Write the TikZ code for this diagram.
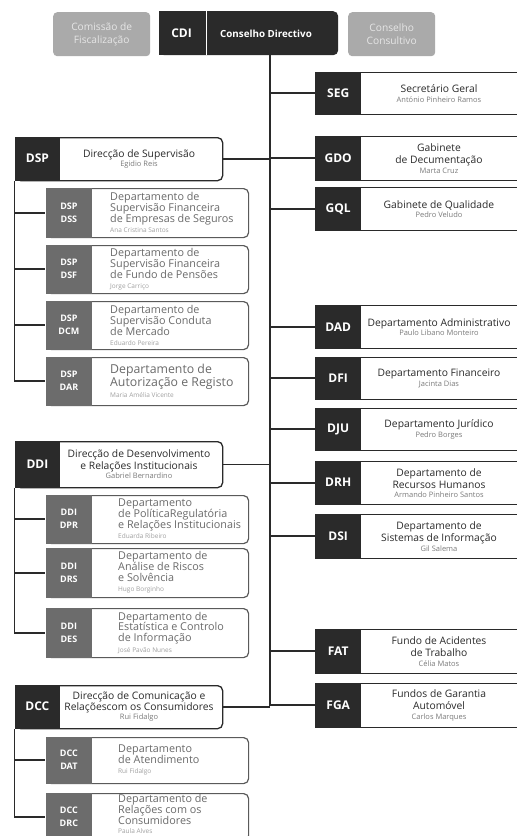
\documentclass[tikz,border=0pt]{standalone}
\usepackage{fontspec}
\setmainfont{Open Sans}
\definecolor{dark}{HTML}{2A2A2A}
\definecolor{subcode}{HTML}{6C6C6C}
\definecolor{subborder}{HTML}{5A5A5A}
\definecolor{subtext}{HTML}{6A6A6A}
\definecolor{rname}{HTML}{7A7A7A}
\definecolor{sname}{HTML}{A0A0A0}
\definecolor{topgray}{HTML}{AAAAAA}
\definecolor{toptext}{HTML}{E6E6E6}
\newcommand\fs[2]{\fontsize{#1}{#2}\selectfont}
\newcommand\pn[1]{{\fs{7.5}{8}\color{rname}#1}}
\newcommand\spn[1]{{\fs{6.5}{8}\color{sname}#1}}
\tikzset{
  conn/.style={draw=dark, line width=1.6},
  topbox/.style={fill=topgray, rounded corners=4, minimum width=97, minimum height=44, inner sep=0, anchor=north west, align=center, text=toptext, font=\fs{10.2}{12.5}},
  rbody/.style={draw=dark, line width=1.3, fill=white, minimum width=240, inner sep=0, anchor=north west},
  rcode/.style={fill=dark, minimum width=46, inner sep=0, anchor=north west, text=white, font=\bfseries\fs{12}{13}},
  rtext/.style={align=center, inner sep=0, text=dark, font=\fs{10.3}{12}},
  mbody/.style={draw=dark, line width=1.3, fill=white, rounded corners=5, minimum width=207, inner sep=0, anchor=north west},
  mcode/.style={fill=dark, minimum width=45.6, inner sep=0, anchor=north west, text=white, font=\bfseries\fs{12}{13}},
  mtext/.style={align=center, inner sep=0, text=dark, font=\fs{10.3}{11.5}},
  sbody/.style={draw=subborder, line width=1.2, fill=white, rounded corners=5, minimum width=202, inner sep=0, anchor=north west},
  scode/.style={fill=subcode, minimum width=46.6, inner sep=0, anchor=north west, text=white, align=center, font=\bfseries\fs{9}{13}},
  stext/.style={align=left, inner sep=0, anchor=west, text=subtext, font=\fs{10.8}{11}},
}
% name, ytop, ybot, code, text
\newcommand\RBox[5]{%
  \node[rbody, minimum height={#3-#2}] (#1-b) at (315,#2) {};
  \node[rcode, minimum height={#3-#2}] (#1) at (315,#2) {#4};
  \node[rtext] (#1-t) at (439,{(#2+#3)/2+0.5}) {#5};
}
\newcommand\MBox[5]{%
  \node[mbody, minimum height={#3-#2}] (#1-b) at (15,#2) {};
  \node[mcode, minimum height={#3-#2+1.2}] (#1) at (14.4,{#2-0.6}) {#4};
  \node[mtext] (#1-t) at (139,{(#2+#3)/2}) {#5};
}
% [text y shift], name, ytop, ybot, code, textx, text
\newcommand\SBox[7][0]{%
  \node[sbody, minimum height={#4-#3}] (#2-b) at (46,#3) {};
  \node[scode, minimum height={#4-#3+1.2}] (#2) at (45.4,{#3-0.6}) {#5};
  \node[stext] (#2-t) at (#6,{(#3+#4)/2+#1}) {#7};
}
\begin{document}
\begin{tikzpicture}[x=1pt,y=-1pt]
\useasboundingbox (0,0) rectangle (517,836);
\clip (0,0) rectangle (517,836);
\fill[white] (0,0) rectangle (517,836);

% top row
\node[topbox] (cf) at (53,12) {Comissão de\\Fiscalização};
\node[topbox, minimum width=87] (cc) at (348,12) {Conselho\\Consultivo};
\node[fill=dark, rounded corners=5, minimum width=179, minimum height=44, inner sep=0, anchor=north west] (cdi) at (159,11) {};
\fill[dark] (159,11) rectangle (185,55);
\draw[white, line width=1] (206,11) -- (206,55);
\node[text=white, font=\bfseries\fs{12}{13}] (cdi-c) at (181.5,33.5) {CDI};
\node[text=white, font=\bfseries\fs{9.8}{12}] (cdi-t) at (266,33.5) {Conselho Directivo};

% trunk
\coordinate (tb) at (270,706);
\draw[conn] (cdi.south -| tb) -- (tb);

% right boxes
\RBox{seg}{72}{114}{SEG}{Secretário Geral\\[-2.5pt]\pn{António Pinheiro Ramos}}
\RBox{gdo}{136}{180}{GDO}{Gabinete\\de Decumentação\\[-2.5pt]\pn{Marta Cruz}}
\RBox{gql}{187}{230}{GQL}{Gabinete de Qualidade\\[-2.5pt]\pn{Pedro Veludo}}
\RBox{dad}{305}{348}{DAD}{Departamento Administrativo\\[-2.5pt]\pn{Paulo Libano Monteiro}}
\RBox{dfi}{357}{399}{DFI}{Departamento Financeiro\\[-2.5pt]\pn{Jacinta Dias}}
\RBox{dju}{408}{450}{DJU}{Departamento Jurídico\\[-2.5pt]\pn{Pedro Borges}}
\RBox{drh}{461}{504}{DRH}{Departamento de\\Recursos Humanos\\[-2.5pt]\pn{Armando Pinheiro Santos}}
\RBox{dsi}{514}{558}{DSI}{Departamento de\\Sistemas de Informação\\[-2.5pt]\pn{Gil Salema}}
\RBox{fat}{629}{673}{FAT}{Fundo de Acidentes\\de Trabalho\\[-2.5pt]\pn{Célia Matos}}
\RBox{fga}{683}{727}{FGA}{Fundos de Garantia\\Automóvel\\[-2.5pt]\pn{Carlos Marques}}

\foreach \n in {seg,gdo,gql,dad,dfi,dju,drh,dsi,fat,fga}
  \draw[conn] (\n.west -| tb) -- (\n.west);

% left main boxes
\MBox{dsp}{137}{180}{DSP}{Direcção de Supervisão\\[-2.5pt]\pn{Egidio Reis}}
\MBox{ddi}{441}{487}{DDI}{Direcção de Desenvolvimento\\e Relações Institucionais\\[-2.5pt]\pn{Gabriel Bernardino}}
\MBox{dcc}{685}{728}{DCC}{Direcção de Comunicação e\\Relaçõescom os Consumidores\\[-2.5pt]\pn{Rui Fidalgo}}

\foreach \n in {dsp,ddi,dcc}
  \draw[conn] (\n-b.east) -- (\n-b.east -| tb);

% sub boxes
\SBox{dss}{188}{237}{DSP\\DSS}{110}{Departamento de\\Supervisão Financeira\\de Empresas de Seguros\\[-1pt]\spn{Ana Cristina Santos}}
\SBox{dsf}{245}{293}{DSP\\DSF}{110}{Departamento de\\Supervisão Financeira\\de Fundo de Pensões\\[-1pt]\spn{Jorge Carriço}}
\SBox{dcm}{301}{349}{DSP\\DCM}{110}{Departamento de\\Supervisão Conduta\\de Mercado\\[-1pt]\spn{Eduardo Pereira}}
\SBox{dar}{357}{405}{DSP\\DAR}{110}{\fs{12.3}{11.5}Departamento de\\\fs{12.3}{11.5}Autorização e Registo\\[0pt]\spn{Maria Amélia Vicente}}

\SBox{dpr}{495}{543}{DDI\\DPR}{118}{Departamento\\de PolíticaRegulatória\\e Relações Institucionais\\[-1pt]\spn{Eduarda Ribeiro}}
\SBox{drs}{548}{597}{DDI\\DRS}{118}{Departamento de\\Análise de Riscos\\e Solvência\\[-1pt]\spn{Hugo Borginho}}
\SBox{des}{608}{657}{DDI\\DES}{118}{Departamento de\\Estatística e Controlo\\de Informação\\[-1pt]\spn{José Pavão Nunes}}

\SBox{dat}{737}{783}{DCC\\DAT}{118}{Departamento\\de Atendimento\\[-1pt]\spn{Rui Fidalgo}}
\SBox[-3]{drc}{793}{840}{DCC\\DRC}{118}{Departamento de\\Relações com os\\Consumidores\\[-2pt]\spn{Paula Alves}}

% sub trees
\draw[conn] (dsp.south west) -- (dsp.south west |- dar.west) -- (dar.west);
\foreach \n in {dss,dsf,dcm}
  \draw[conn] (\n.west -| dsp.south west) -- (\n.west);
\draw[conn] (ddi.south west) -- (ddi.south west |- des.west) -- (des.west);
\foreach \n in {dpr,drs}
  \draw[conn] (\n.west -| ddi.south west) -- (\n.west);
\draw[conn] (dcc.south west) -- (dcc.south west |- drc.west) -- (drc.west);
\draw[conn] (dat.west -| dcc.south west) -- (dat.west);
\end{tikzpicture}
\end{document}
